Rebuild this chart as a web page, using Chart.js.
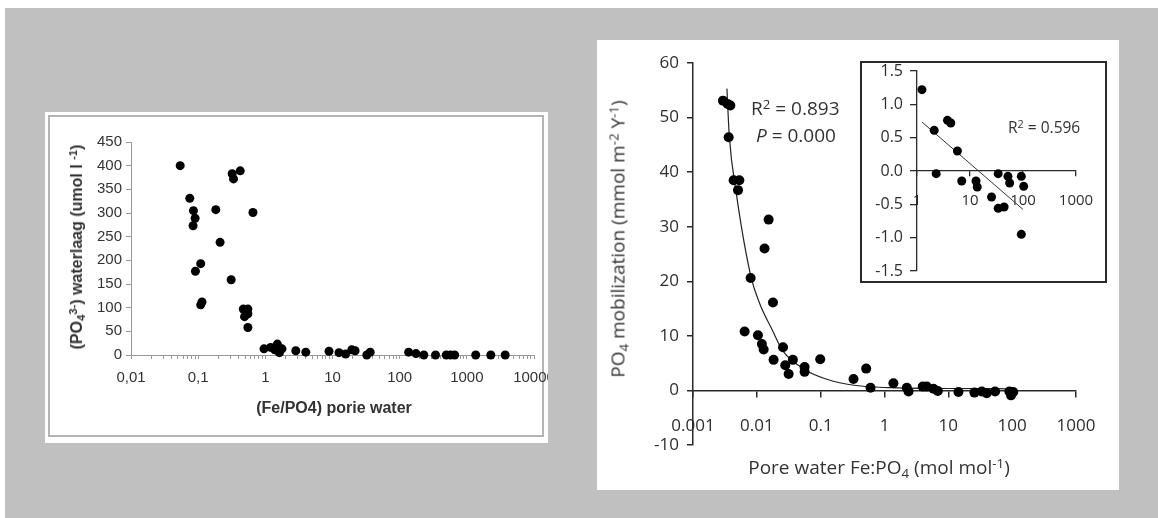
<!DOCTYPE html>
<html>
<head>
<meta charset="utf-8">
<title>Fe:PO4 ratio and phosphate</title>
<script src="https://cdn.jsdelivr.net/npm/chart.js@4.4.1/dist/chart.umd.min.js"></script>
<style>
  html, body { margin: 0; padding: 0; background: #fff; }
  body { width: 1158px; height: 518px; position: relative; overflow: hidden; }
  .backdrop { position: absolute; left: 5px; top: 8px; right: 0; bottom: 0; background: #c0c0c0; }
  .panel { position: absolute; background: #fff; }
  #leftPanel { left: 45px; top: 112px; width: 503px; height: 331px; }
  #leftPanel .frame { position: absolute; left: 3px; top: 3px; right: 4px; bottom: 6px; border: 2px solid #b4b4b4; }
  #rightPanel { left: 597px; top: 40px; width: 522px; height: 450px; }
  #insetBox { position: absolute; left: 860px; top: 61px; width: 243px; height: 218px; border: 2px solid #2a2a2a; background: #fff; }
  canvas { position: absolute; left: 0; top: 0; }
  .txt { position: absolute; white-space: nowrap; line-height: 1; transform: translate(-50%, -50%); }
  .rot { transform: translate(-50%, -50%) rotate(-90deg); }
  .left-side { transform: translate(0, -50%); }
  .arial { font-family: 'Liberation Sans', Arial, sans-serif; font-weight: bold; font-size: 16px; color: #333; }
  .sans { font-family: 'Open Sans', sans-serif; font-size: 19px; color: #333; }
  .sub { font-size: 0.7em; position: relative; top: 0.3em; }
  .sup { font-size: 0.7em; position: relative; top: -0.45em; }
</style>
</head>
<body>
<div class="backdrop"></div>

<div class="panel" id="leftPanel">
  <div class="frame"></div>
  <canvas id="leftChart" width="503" height="331"></canvas>
</div>

<div class="panel" id="rightPanel">
  <canvas id="rightChart" width="522" height="450"></canvas>
</div>

<div id="insetBox">
  <canvas id="insetChart" width="243" height="218"></canvas>
</div>

<!-- axis titles and fit statistics -->
<div class="txt arial" style="left:334px; top:408px;">(Fe/PO4) porie water</div>
<div class="txt arial rot" style="left:77px; top:247px;">(PO<span class="sub">4</span><span class="sup">3-</span>) waterlaag (umol l <span class="sup">-1</span>)</div>

<div class="txt sans" style="left:879px; top:467px;">Pore water Fe:PO<span class="sub">4</span> (mol mol<span class="sup">-1</span>)</div>
<div class="txt sans rot" style="left:618px; top:239px;">PO<span class="sub">4</span> mobilization (mmol m<span class="sup">-2</span> Y<span class="sup">-1</span>)</div>

<div class="txt sans left-side" style="left:751px; top:108px; font-size:19px;">R<span class="sup">2</span> = 0.893</div>
<div class="txt sans left-side" style="left:756px; top:135px; font-size:19px;"><i>P</i> = 0.000</div>
<div class="txt sans left-side" style="left:1008px; top:128px; font-size:15.5px;">R<span class="sup">2</span> = 0.596</div>

<script>
// Left panel: PO4 in the water layer against pore water Fe/PO4
const waterRatio = [0.054, 0.075, 0.085, 0.090, 0.084, 0.183, 0.212, 0.109, 0.091, 0.114, 0.109,
    0.31, 0.321, 0.336, 0.423, 0.654, 0.469, 0.55, 0.49, 0.55, 0.55,
    0.955, 1.2, 1.38, 1.51, 1.62, 1.77, 2.84, 4.0, 8.87, 12.5, 15.7, 19.4, 21.7, 32.4, 36.4,
    136, 175, 229, 342, 494, 573, 658, 1355, 2275, 3726];
const waterPO4 = [400, 331, 305, 289, 273, 307, 238, 193, 177, 112, 106,
    159, 383, 372, 389, 301, 97, 97, 81, 87, 58,
    13, 16, 11, 23, 5, 13, 9, 6, 8, 5, 2, 11, 9, 0, 6,
    6, 3, 0, 0, 0, 0, 0, 0, 0, 0];
const leftXLabels = ['0,01', '0,1', '1', '10', '100', '1000', '10000'];

// Right panel: PO4 mobilization against pore water Fe:PO4, with fitted curve
const poreRatio = [0.00295, 0.00349, 0.00385, 0.00362, 0.00433, 0.00532, 0.00507, 0.0153, 0.0132,
    0.0080, 0.0179, 0.00644, 0.0104, 0.0120, 0.0128, 0.0183, 0.0257, 0.0279, 0.0315, 0.0367,
    0.056, 0.056, 0.0984, 0.327, 0.516, 0.604, 1.38, 2.24, 2.38, 3.98, 4.6, 5.85, 6.84,
    14.4, 25.6, 33.4, 39.9, 54, 90.4, 96, 104];
const mobilization = [53.1, 52.5, 52.2, 46.4, 38.5, 38.5, 36.7, 31.3, 26.0,
    20.6, 16.1, 10.8, 10.1, 8.5, 7.5, 5.6, 7.9, 4.6, 3.0, 5.6,
    4.3, 3.4, 5.7, 2.1, 4.0, 0.5, 1.3, 0.5, -0.2, 0.7, 0.7, 0.3, -0.1,
    -0.3, -0.4, -0.2, -0.5, -0.2, -0.2, -0.9, -0.3];
const fitRatio = [0.0034, 0.0037, 0.0047, 0.0081, 0.0112, 0.0176, 0.0254, 0.0589, 0.121, 0.357, 1.18, 10, 100];
const fitMobilization = [55.3, 46.7, 36.6, 20.8, 15.8, 11.0, 7.3, 3.7, 2.1, 0.9, 0.5, 0.35, 0.3];
const mainXLabels = ['0.001', '0.01', '0.1', '1', '10', '100', '1000'];

// Inset: the high-ratio stations only, with linear trend
const insetRatio = [1.24, 2.11, 2.30, 3.76, 4.34, 5.79, 6.98, 12.97, 13.7, 25.5, 34, 34, 44, 52, 56, 93, 103, 93];
const insetValue = [1.22, 0.61, -0.04, 0.76, 0.72, 0.30, -0.15, -0.15, -0.24, -0.39, -0.04, -0.56, -0.54,
    -0.08, -0.18, -0.08, -0.23, -0.95];
const insetFitRatio = [1.24, 100];
const insetFitValue = [0.735, -0.577];
const insetXLabels = ['1', '10', '100', '1000'];

function toPoints(xs, ys) {
    return xs.map((x, i) => ({ x: x, y: ys[i] }));
}

// index of a power of ten relative to the first decade, -1 otherwise
function decadeIndex(value, firstExp) {
    const e = Math.log10(value);
    const r = Math.round(e);
    return Math.abs(e - r) < 1e-6 ? r - firstExp : -1;
}

function fixWidth(w) {
    return function (scale) {
        scale.width = w;
        scale.paddingTop = 0;
        scale.paddingBottom = 0;
    };
}

function fixHeight(h) {
    return function (scale) {
        if (h !== null) scale.height = h;
        scale.paddingLeft = 0;
        scale.paddingRight = 0;
    };
}

const quiet = {
    responsive: false,
    animation: false,
    events: [],
    plugins: { legend: { display: false }, tooltip: { enabled: false } }
};

function dots(radius) {
    return {
        backgroundColor: '#000',
        borderWidth: 0,
        pointRadius: radius,
        pointHoverRadius: radius,
        clip: false
    };
}

// ---- left chart ----
const arialTicks = { family: "'Liberation Sans', Arial, sans-serif", size: 15 };

new Chart(document.getElementById('leftChart'), {
    type: 'scatter',
    data: {
        datasets: [Object.assign({ data: toPoints(waterRatio, waterPO4) }, dots(4.5))]
    },
    options: Object.assign({}, quiet, {
        layout: { padding: { left: 0, right: 14, top: 30, bottom: 58 } },
        scales: {
            x: {
                type: 'logarithmic',
                min: 0.01,
                max: 10000,
                border: { color: '#999', width: 1 },
                grid: { drawOnChartArea: false, tickLength: 4, color: '#999' },
                ticks: {
                    autoSkip: false,
                    maxRotation: 0,
                    padding: 10,
                    color: '#333',
                    font: arialTicks,
                    callback: function (v) {
                        const i = decadeIndex(v, -2);
                        return i >= 0 ? leftXLabels[i] : '';
                    }
                },
                // minor ticks at 1..9 of every decade
                afterBuildTicks: function (scale) {
                    const ticks = [];
                    for (let e = -2; e <= 4; e++) {
                        const top = e === 4 ? 1 : 9;
                        for (let m = 1; m <= top; m++) {
                            ticks.push({ value: m * Math.pow(10, e) });
                        }
                    }
                    scale.ticks = ticks;
                },
                afterFit: fixHeight(30)
            },
            y: {
                min: 0,
                max: 450,
                border: { color: '#999', width: 1 },
                grid: { drawOnChartArea: false, tickLength: 5, color: '#999' },
                ticks: { stepSize: 50, padding: 4, color: '#333', font: arialTicks },
                afterFit: fixWidth(86)
            }
        }
    })
});

// ---- right chart ----
const sansTicks = { family: "'Open Sans', sans-serif", size: 17 };

new Chart(document.getElementById('rightChart'), {
    type: 'scatter',
    data: {
        datasets: [
            Object.assign({ data: toPoints(poreRatio, mobilization) }, dots(5)),
            {
                type: 'line',
                data: toPoints(fitRatio, fitMobilization),
                borderColor: '#222',
                borderWidth: 1.2,
                pointRadius: 0,
                fill: false,
                cubicInterpolationMode: 'monotone'
            }
        ]
    },
    options: Object.assign({}, quiet, {
        layout: { padding: { left: 0, right: 43, top: 23, bottom: 45 } },
        scales: {
            x: {
                type: 'logarithmic',
                position: { y: 0 },
                min: 0.001,
                max: 1000,
                border: { color: '#2a2a2a', width: 1.5 },
                grid: { drawOnChartArea: false, tickLength: 6, color: '#2a2a2a', lineWidth: 1.5 },
                ticks: {
                    autoSkip: false,
                    maxRotation: 0,
                    padding: 20,
                    color: '#2e2e2e',
                    font: sansTicks,
                    callback: function (v) {
                        const i = decadeIndex(v, -3);
                        return i >= 0 ? mainXLabels[i] : '';
                    }
                },
                afterBuildTicks: function (scale) {
                    scale.ticks = mainXLabels.map(l => ({ value: Number(l) }));
                },
                afterFit: fixHeight(null)
            },
            y: {
                min: -10,
                max: 60,
                border: { color: '#2a2a2a', width: 1.5 },
                grid: { drawOnChartArea: false, tickLength: 6, color: '#2a2a2a', lineWidth: 1.5 },
                ticks: { stepSize: 10, padding: 8, color: '#2e2e2e', font: sansTicks },
                afterFit: fixWidth(96)
            }
        }
    })
});

// ---- inset ----
new Chart(document.getElementById('insetChart'), {
    type: 'scatter',
    data: {
        datasets: [
            Object.assign({ data: toPoints(insetRatio, insetValue) }, dots(4.5)),
            {
                type: 'line',
                data: toPoints(insetFitRatio, insetFitValue),
                borderColor: '#333',
                borderWidth: 1,
                pointRadius: 0,
                fill: false
            }
        ]
    },
    options: Object.assign({}, quiet, {
        layout: { padding: { left: 0, right: 29, top: 8, bottom: 10 } },
        scales: {
            x: {
                type: 'logarithmic',
                position: { y: 0 },
                min: 1,
                max: 1000,
                border: { color: '#2a2a2a', width: 1.3 },
                grid: { drawOnChartArea: false, tickLength: 5, color: '#2a2a2a', lineWidth: 1.3 },
                ticks: {
                    autoSkip: false,
                    maxRotation: 0,
                    padding: 16,
                    color: '#2e2e2e',
                    font: { family: "'Open Sans', sans-serif", size: 15 },
                    callback: function (v) {
                        const i = decadeIndex(v, 0);
                        return i >= 0 ? insetXLabels[i] : '';
                    }
                },
                afterBuildTicks: function (scale) {
                    scale.ticks = insetXLabels.map(l => ({ value: Number(l) }));
                },
                afterFit: fixHeight(null)
            },
            y: {
                min: -1.5,
                max: 1.5,
                border: { color: '#2a2a2a', width: 1.3 },
                grid: { drawOnChartArea: false, tickLength: 7, color: '#2a2a2a', lineWidth: 1.3 },
                ticks: {
                    stepSize: 0.5,
                    padding: 7,
                    color: '#2e2e2e',
                    font: { family: "'Open Sans', sans-serif", size: 16 },
                    callback: v => v.toFixed(1)
                },
                afterFit: fixWidth(55)
            }
        }
    })
});
</script>
</body>
</html>
